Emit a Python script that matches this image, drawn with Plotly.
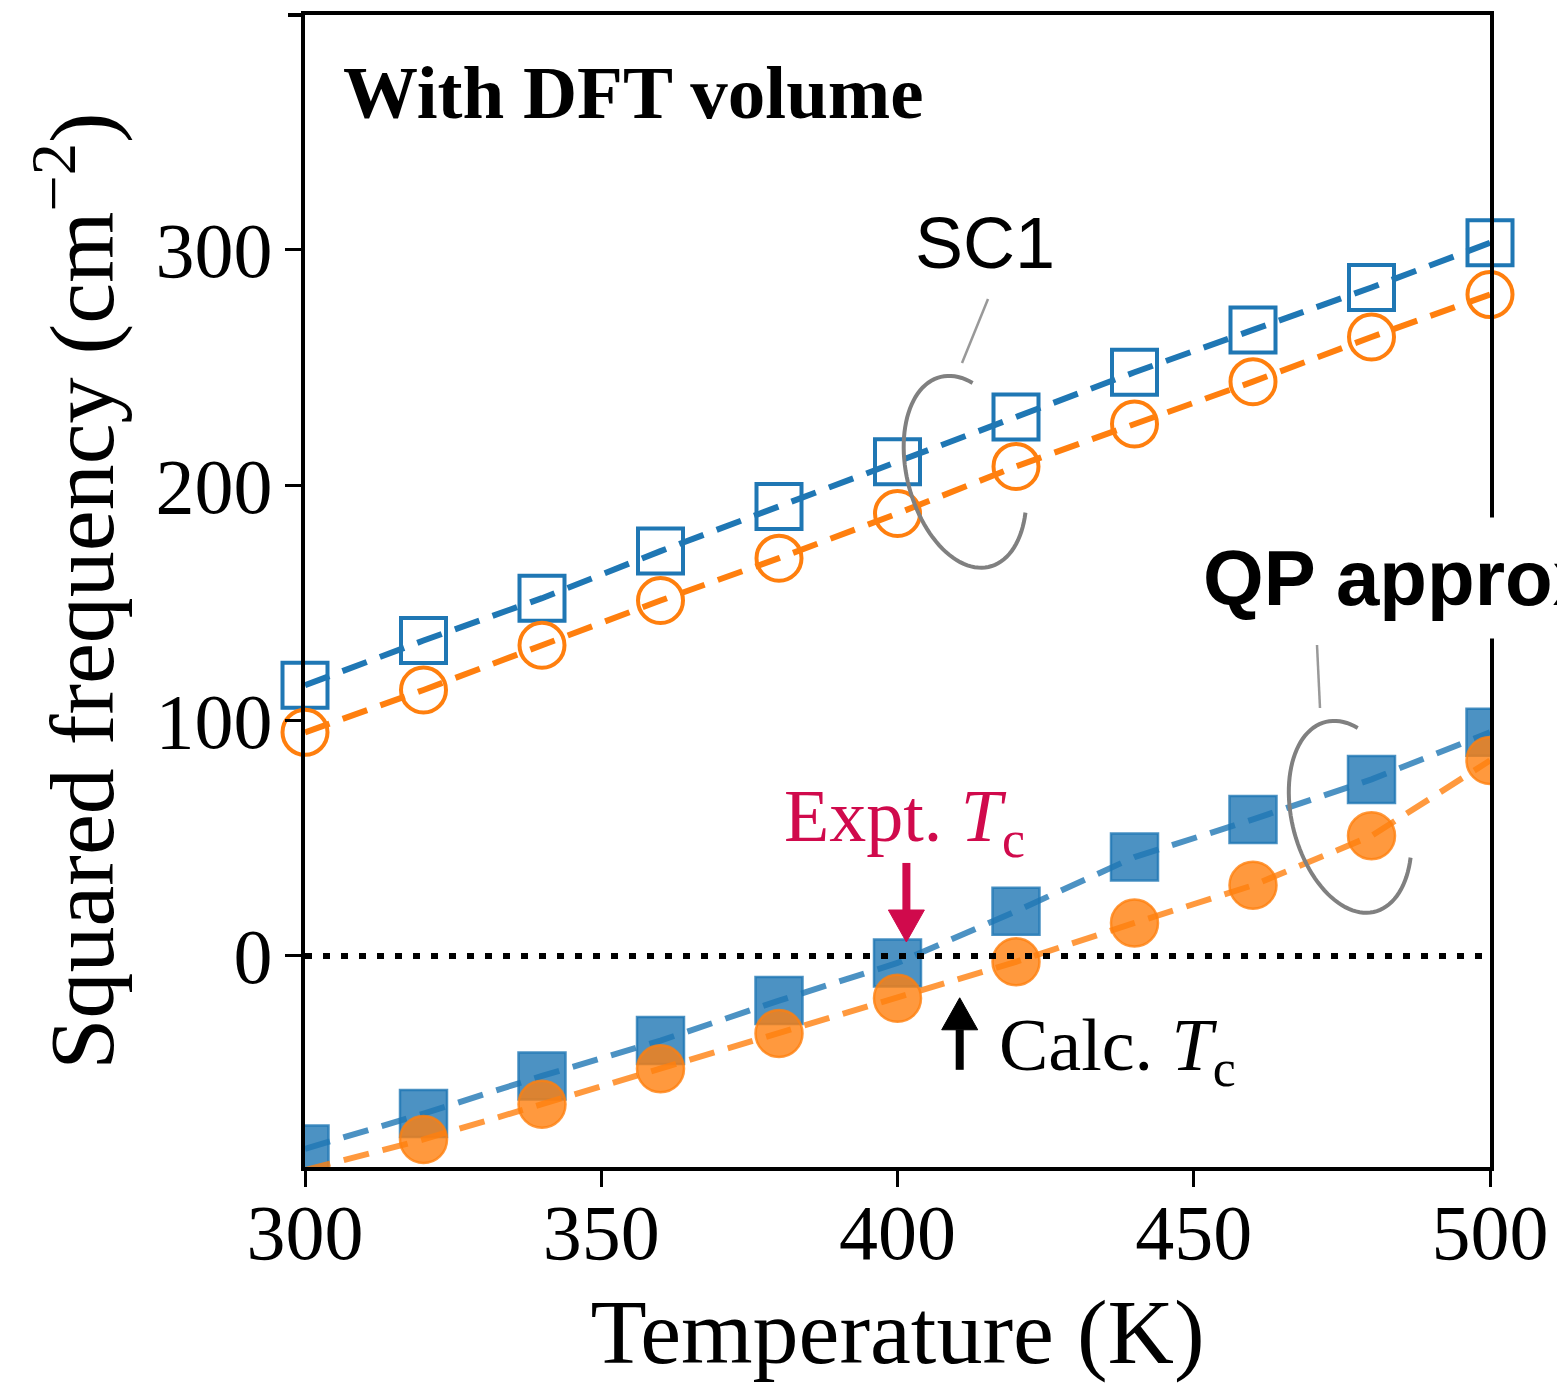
import numpy as np
import plotly.graph_objects as go

# Temperatures (K) and squared soft-mode frequencies (cm^-2)
temperature = [300, 320, 340, 360, 380, 400, 420, 440, 460, 480, 500]
sc1_mode_a = [115, 134, 152, 172, 191, 210, 229, 248, 266, 284, 303]
sc1_mode_b = [95, 113, 132, 151, 169, 188, 208, 226, 244, 263, 281]
qp_mode_a = [-82, -67, -51, -36, -19, -3, 19, 42, 58, 75, 95]
qp_mode_b = [-91, -78, -63, -48, -33, -18, -2.5, 14, 30, 51, 83]

x_ticks = [300, 350, 400, 450, 500]
y_ticks = [0, 100, 200, 300]
expt_tc = 401.5
calc_tc = 410.5

BLUE = "#1f77b4"
ORANGE = "#ff7f0e"
BLUE_A = "rgba(31,119,180,0.8)"
ORANGE_A = "rgba(255,127,14,0.8)"
CRIMSON = "#d00a4c"
GREY = "#808080"
SERIF = "Liberation Serif"
SANS = "Liberation Sans"

W, H = 1557, 1383
ML, MR, MT, MB = 305, 67, 15, 216
PW, PH = W - ML - MR, H - MT - MB
X_RANGE = [300, 500]
Y_RANGE = [-89.7, 399.8]
SX = PW / (X_RANGE[1] - X_RANGE[0])   # px per K
SY = PH / (Y_RANGE[1] - Y_RANGE[0])   # px per cm^-2


def px_x(px):
    return (px - ML) / PW


def px_y(py):
    return (H - MB - py) / PH


def ellipse_arc(cx, cy, a_px, b_px, tilt_deg, t0, t1, n=80):
    """Open elliptical arc around a group of points, path in data units."""
    phi = np.radians(tilt_deg)
    u = np.array([np.sin(phi), np.cos(phi)])
    v = np.array([np.cos(phi), -np.sin(phi)])
    pts = []
    for t in np.radians(np.linspace(t0, t1, n)):
        off = a_px * np.cos(t) * u + b_px * np.sin(t) * v
        pts.append((cx + off[0] / SX, cy - off[1] / SY))
    return "M" + " L".join(f"{x:.3f},{y:.3f}" for x, y in pts)


def arrow_shapes(x, y_tip, y_tail, color):
    """Vertical block arrow: shaft plus filled triangular head."""
    head_len = 32 / SY
    half_w = 18 / SX
    direction = 1 if y_tail > y_tip else -1
    y_base = y_tip + direction * head_len
    shaft = dict(type="line", xref="x", yref="y", x0=x, x1=x,
                 y0=y_tail, y1=y_base, line=dict(color=color, width=8))
    head = dict(type="path", xref="x", yref="y",
                path=f"M{x - half_w},{y_base} L{x + half_w},{y_base} L{x},{y_tip} Z",
                fillcolor=color, line=dict(color=color, width=1))
    return [shaft, head]


fig = go.Figure()

dash = "26px,14px"
fig.add_trace(go.Scatter(
    x=temperature, y=qp_mode_a, mode="lines+markers",
    line=dict(color=BLUE_A, width=6, dash=dash),
    marker=dict(symbol="square", size=47, color=BLUE_A,
                line=dict(color=BLUE_A, width=2.5)),
    cliponaxis=True, showlegend=False))
fig.add_trace(go.Scatter(
    x=temperature, y=qp_mode_b, mode="lines+markers",
    line=dict(color=ORANGE_A, width=6, dash=dash),
    marker=dict(symbol="circle", size=47, color=ORANGE_A,
                line=dict(color=ORANGE_A, width=2.5)),
    cliponaxis=True, showlegend=False))
fig.add_trace(go.Scatter(
    x=temperature, y=sc1_mode_a, mode="lines+markers",
    line=dict(color=BLUE, width=6, dash=dash),
    marker=dict(symbol="square-open", size=45, color=BLUE,
                line=dict(color=BLUE, width=4)),
    cliponaxis=False, showlegend=False))
fig.add_trace(go.Scatter(
    x=temperature, y=sc1_mode_b, mode="lines+markers",
    line=dict(color=ORANGE, width=6, dash=dash),
    marker=dict(symbol="circle-open", size=45, color=ORANGE,
                line=dict(color=ORANGE, width=4)),
    cliponaxis=False, showlegend=False))

shapes = []
# zero line
shapes.append(dict(type="line", xref="x", yref="y", x0=X_RANGE[0], x1=X_RANGE[1],
                   y0=0, y1=0, layer="above",
                   line=dict(color="black", width=6, dash="7px,11px")))
# brackets around each set of curves
shapes.append(dict(type="path", xref="x", yref="y",
                   path=ellipse_arc(411.4, 205.7, 98, 58, 14.7, 149, 416),
                   line=dict(color=GREY, width=4)))
shapes.append(dict(type="path", xref="x", yref="y",
                   path=ellipse_arc(476.4, 59.1, 98, 58, 14.7, 149, 416),
                   line=dict(color=GREY, width=4)))
# leader lines to the labels
shapes.append(dict(type="line", xref="paper", yref="paper",
                   x0=px_x(988), y0=px_y(299), x1=px_x(962), y1=px_y(363),
                   line=dict(color="#999999", width=2.5)))
shapes.append(dict(type="line", xref="paper", yref="paper",
                   x0=px_x(1317), y0=px_y(645), x1=px_x(1320), y1=px_y(708),
                   line=dict(color="#999999", width=2.5)))
# top frame line extends slightly past the left spine
shapes.append(dict(type="line", xref="paper", yref="paper",
                   x0=px_x(288), x1=0, y0=1, y1=1,
                   line=dict(color="black", width=4)))
shapes += arrow_shapes(expt_tc, 5.9, 39.5, CRIMSON)
shapes += arrow_shapes(calc_tc, -17.8, -48.4, "black")

annotations = [
    dict(text="<b>With DFT volume</b>", xref="paper", yref="paper",
         x=px_x(341), y=px_y(92), xanchor="left", yanchor="middle",
         showarrow=False, font=dict(family=SERIF, size=75, color="black")),
    dict(text="SC1", xref="paper", yref="paper",
         x=px_x(985), y=px_y(243), xanchor="center", yanchor="middle",
         showarrow=False, font=dict(family=SANS, size=72, color="black")),
    dict(text="<b>QP approx.</b>", xref="paper", yref="paper",
         x=px_x(1186), y=px_y(578), xanchor="left", yanchor="middle",
         showarrow=False, bgcolor="white", borderpad=16,
         font=dict(family=SANS, size=78, color="black")),
    dict(text="Expt. <i>T</i><sub>c</sub>", xref="paper", yref="paper",
         x=px_x(782), y=px_y(822), xanchor="left", yanchor="middle",
         showarrow=False, font=dict(family=SERIF, size=74, color=CRIMSON)),
    dict(text="Calc. <i>T</i><sub>c</sub>", xref="paper", yref="paper",
         x=px_x(997), y=px_y(1050), xanchor="left", yanchor="middle",
         showarrow=False, font=dict(family=SERIF, size=74, color="black")),
]

axis_common = dict(showline=True, linecolor="black", linewidth=4, mirror=True,
                   ticks="outside", ticklen=16, tickwidth=3, tickcolor="black",
                   showgrid=False, zeroline=False,
                   tickfont=dict(family=SERIF, size=78, color="black"))

fig.update_layout(
    width=W, height=H,
    margin=dict(l=ML, r=MR, t=MT, b=MB, autoexpand=False),
    paper_bgcolor="white", plot_bgcolor="white",
    xaxis=dict(range=X_RANGE, tickvals=x_ticks, ticklabelstandoff=-22,
               title=dict(text="Temperature (K)", standoff=38,
                          font=dict(family=SERIF, size=92, color="black")),
               **axis_common),
    yaxis=dict(range=Y_RANGE, tickvals=y_ticks, ticklabelstandoff=-3,
               title=dict(text="Squared frequency (cm<sup>−2</sup>)", standoff=12,
                          font=dict(family=SERIF, size=92, color="black")),
               **axis_common),
    shapes=shapes,
    annotations=annotations,
)

fig.write_html("out.html")
